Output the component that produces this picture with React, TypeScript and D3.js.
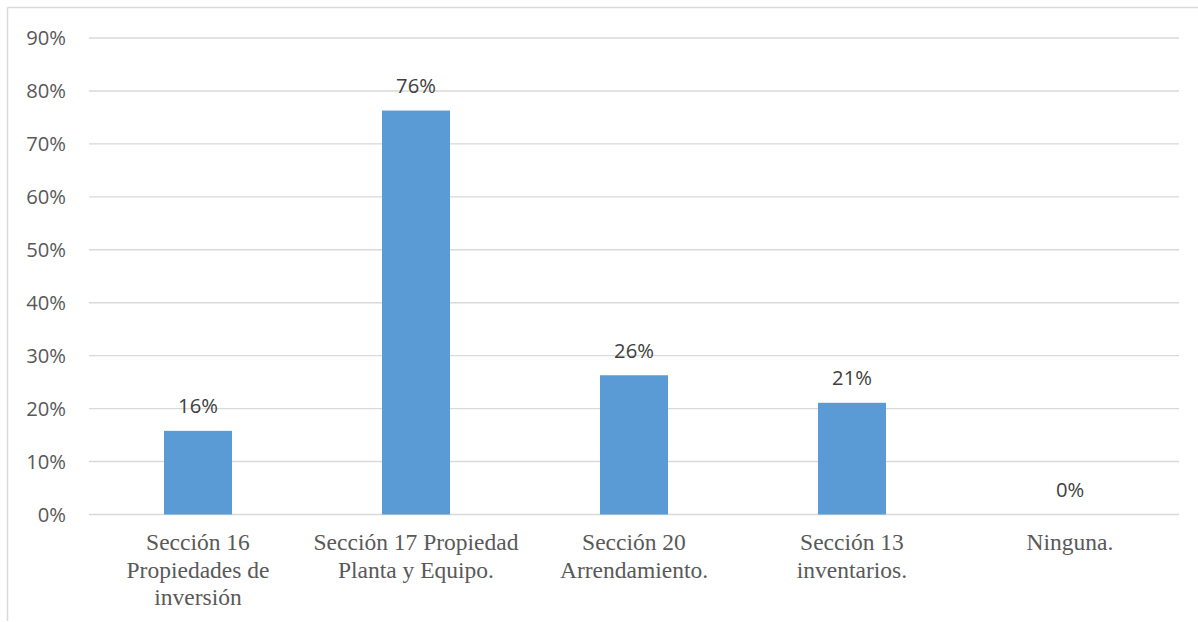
import React from "react";
import * as d3 from "d3";

const categories: string[][] = [
  ["Sección 16", "Propiedades de", "inversión"],
  ["Sección 17 Propiedad", "Planta y Equipo."],
  ["Sección 20", "Arrendamiento."],
  ["Sección 13", "inventarios."],
  ["Ninguna."],
];
const values: number[] = [0.158, 0.763, 0.263, 0.211, 0];
const valueLabels: string[] = ["16%", "76%", "26%", "21%", "0%"];
const yTicks: number[] = [0, 0.1, 0.2, 0.3, 0.4, 0.5, 0.6, 0.7, 0.8, 0.9];

const W = 1198;
const H = 622;
const plotLeft = 89;
const plotRight = 1179;
const plotTop = 38;
const plotBottom = 514.5;

export default function App() {
  const x = d3
    .scaleBand<number>()
    .domain(d3.range(values.length))
    .range([plotLeft, plotRight])
    .paddingInner(0.688)
    .paddingOuter(0.344);
  const y = d3.scaleLinear().domain([0, 0.9]).range([plotBottom, plotTop]);
  const fmt = d3.format(".0%");
  const step = (plotRight - plotLeft) / values.length;
  const sans = "'Open Sans', sans-serif";
  const serif = "'Liberation Serif', 'Times New Roman', serif";

  return (
    <svg
      width={W}
      height={H}
      style={{ position: "absolute", left: 0, top: 0, background: "#fff" }}
    >
      <line x1={7.5} y1={7.5} x2={W} y2={7.5} stroke="#D9D9D9" strokeWidth={1.5} />
      <line x1={7.5} y1={7.5} x2={7.5} y2={621} stroke="#D9D9D9" strokeWidth={1.5} />
      {yTicks.map((t) => (
        <g key={t}>
          <line
            x1={plotLeft}
            x2={plotRight}
            y1={y(t)}
            y2={y(t)}
            stroke="#D9D9D9"
            strokeWidth={1.4}
          />
          <text
            x={66}
            y={y(t)}
            dy="0.36em"
            textAnchor="end"
            fontFamily={sans}
            fontSize={20.2}
            fill="#595959"
          >
            {fmt(t)}
          </text>
        </g>
      ))}
      {values.map((v, i) => (
        <g key={i}>
          {v > 0 && (
            <rect
              x={x(i)!}
              y={y(v)}
              width={x.bandwidth()}
              height={y(0) - y(v)}
              fill="#5B9BD5"
            />
          )}
          <text
            x={x(i)! + x.bandwidth() / 2}
            y={y(v) - 17.5}
            textAnchor="middle"
            fontFamily={sans}
            fontSize={20.2}
            fill="#404040"
          >
            {valueLabels[i]}
          </text>
          <text
            x={plotLeft + step * i + step / 2}
            textAnchor="middle"
            fontFamily={serif}
            fontSize={23.5}
            fill="#595959"
          >
            {categories[i].map((line, j) => (
              <tspan key={j} x={plotLeft + step * i + step / 2} y={550 + j * 27.5}>
                {line}
              </tspan>
            ))}
          </text>
        </g>
      ))}
    </svg>
  );
}
